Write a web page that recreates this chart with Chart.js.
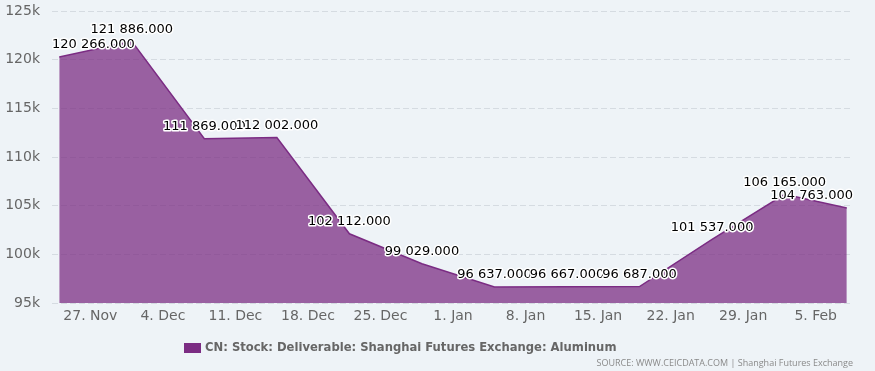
<!DOCTYPE html>
<html>
<head>
<meta charset="utf-8">
<script src="https://cdn.jsdelivr.net/npm/chart.js@4/dist/chart.umd.min.js"></script>
<style>
  html, body { margin: 0; padding: 0; background: #eef3f7; }
  #wrap { width: 875px; height: 371px; position: relative; }
</style>
</head>
<body>
<div id="wrap"><canvas id="stockChart" width="875" height="371"></canvas></div>
<script>
// weekly observation dates (SHFE, Fridays; last one before the holiday)
const dates = ['2023-11-24', '2023-12-01', '2023-12-08', '2023-12-15', '2023-12-22', '2023-12-29',
               '2024-01-05', '2024-01-12', '2024-01-19', '2024-01-26', '2024-02-02', '2024-02-08'];
const stock = [120266, 121886, 111869, 112002, 102112, 99029, 96637, 96667, 96687, 101537, 106165, 104763];

// x axis ticks (Mondays)
const tickDates = ['2023-11-27', '2023-12-04', '2023-12-11', '2023-12-18', '2023-12-25', '2024-01-01',
                   '2024-01-08', '2024-01-15', '2024-01-22', '2024-01-29', '2024-02-05'];
const tickLabels = ['27. Nov', '4. Dec', '11. Dec', '18. Dec', '25. Dec', '1. Jan',
                    '8. Jan', '15. Jan', '22. Jan', '29. Jan', '5. Feb'];

const seriesName = 'CN: Stock: Deliverable: Shanghai Futures Exchange: Aluminum';
const sourceText = 'SOURCE: WWW.CEICDATA.COM | Shanghai Futures Exchange';
const seriesColor = '#7b2c83';

// days since first observation
const day0 = Date.parse(dates[0]);
const toDay = d => (Date.parse(d) - day0) / 86400000;

const fmt = v => {
    const s = v.toFixed(3).split('.');
    return s[0].replace(/\B(?=(\d{3})+(?!\d))/g, ' ') + '.' + s[1];
};

// ! value labels drawn over the points
const valueLabels = {
    id: 'valueLabels',
    afterDatasetsDraw(chart) {
        const ctx = chart.ctx;
        const area = chart.chartArea;
        const meta = chart.getDatasetMeta(0);
        ctx.save();
        ctx.font = '13px "DejaVu Sans"';
        ctx.textBaseline = 'middle';
        ctx.textAlign = 'left';
        ctx.lineJoin = 'round';
        meta.data.forEach((pt, i) => {
            const txt = fmt(stock[i]);
            const w = ctx.measureText(txt).width;
            let x = pt.x - w / 2;
            if (x < area.left) x = area.left;
            if (x + w > area.right) x = area.right - w;
            const y = pt.y - 12;
            ctx.strokeStyle = '#ffffff';
            ctx.lineWidth = 3;
            ctx.strokeText(txt, x, y);
            ctx.fillStyle = '#000000';
            ctx.fillText(txt, x, y);
        });
        ctx.restore();
    }
};

// ! legend + source line at the bottom
const footer = {
    id: 'footer',
    afterDraw(chart) {
        const ctx = chart.ctx;
        ctx.save();
        ctx.fillStyle = seriesColor;
        ctx.fillRect(184, 343, 17, 10);
        ctx.font = 'bold 11.6px "DejaVu Sans"';
        ctx.fillStyle = '#666666';
        ctx.textAlign = 'left';
        ctx.textBaseline = 'middle';
        ctx.fillText(seriesName, 205, 348);

        ctx.font = '9px "Open Sans"';
        ctx.fillStyle = '#8a8a8a';
        ctx.textAlign = 'right';
        ctx.fillText(sourceText, chart.chartArea.right, 363);
        ctx.restore();
    }
};

const el = document.getElementById('stockChart').getContext('2d');
const sChart = new Chart(el, {
    type: 'line',
    data: {
        datasets: [{
            label: seriesName,
            data: dates.map((d, i) => ({ x: toDay(d), y: stock[i] })),
            borderColor: seriesColor,
            backgroundColor: 'rgba(123,44,131,0.74)',
            borderWidth: 1.5,
            fill: 'start',
            pointRadius: 0,
            tension: 0
        }]
    },
    options: {
        responsive: false,
        animation: false,
        layout: { padding: { left: 0, right: 22, top: 11, bottom: 40 } },
        plugins: {
            tooltip: { enabled: false },
            legend: { display: false }
        },
        scales: {
            x: {
                type: 'linear',
                min: -0.7,
                max: 76.6,
                afterBuildTicks: s => { s.ticks = tickDates.map(d => ({ value: toDay(d) })); },
                afterFit: s => { s.height = 28; },
                ticks: {
                    autoSkip: false,
                    maxRotation: 0,
                    padding: -3,
                    color: '#666666',
                    font: { family: '"DejaVu Sans"', size: 14 },
                    callback: (v, i) => tickLabels[i]
                },
                grid: { display: false },
                border: { display: false }
            },
            y: {
                min: 95000,
                max: 125000,
                afterFit: s => { s.width = 52; s.paddingTop = 0; s.paddingBottom = 0; },
                ticks: {
                    stepSize: 5000,
                    padding: 12,
                    color: '#666666',
                    font: { family: '"DejaVu Sans"', size: 14 },
                    callback: v => (v / 1000) + 'k'
                },
                grid: {
                    color: '#d5dbe1',
                    lineWidth: 1,
                    drawTicks: false
                },
                border: { display: false, dash: [6, 3] }
            }
        }
    },
    plugins: [valueLabels, footer]
});
</script>
</body>
</html>
